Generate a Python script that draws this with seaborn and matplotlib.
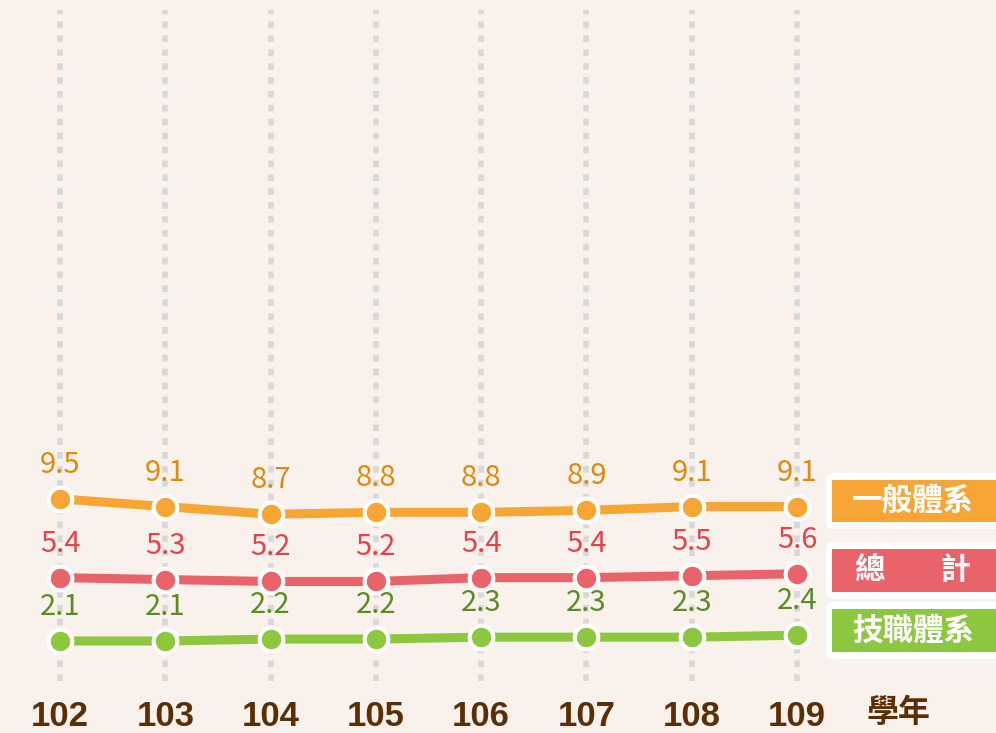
import matplotlib
matplotlib.use("Agg")
import matplotlib.pyplot as plt
import matplotlib.patches as mpatches
import pandas as pd
import seaborn as sns

years = [102, 103, 104, 105, 106, 107, 108, 109]
general = [9.5, 9.1, 8.7, 8.8, 8.8, 8.9, 9.1, 9.1]
total = [5.4, 5.3, 5.2, 5.2, 5.4, 5.4, 5.5, 5.6]
technical = [2.1, 2.1, 2.2, 2.2, 2.3, 2.3, 2.3, 2.4]
series_names = ["一般體系", "總計", "技職體系"]
legend_labels = ["一般體系", "總        計", "技職體系"]

line_colors = ["#F7A535", "#E9636A", "#8DC63F"]
text_colors = ["#DE8A0C", "#E4434D", "#5B8C23"]
brown = "#5C2E04"
bg = "#F8F1EC"

sns.set_theme(style="white")
plt.rcParams["font.family"] = ["Noto Sans CJK TC", "DejaVu Sans"]

df = pd.DataFrame({
    "year": years * 3,
    "value": general + total + technical,
    "series": sum([[n] * len(years) for n in series_names], []),
})

fig = plt.figure(figsize=(9.96, 7.33), dpi=100, facecolor=bg)
ax = fig.add_axes([0, 0.0705, 1, 0.9295])
ax.set_facecolor(bg)

# dotted vertical guides
for y in years:
    ax.axvline(y, ymin=0.0, ymax=0.985, color="#D8D8D8", lw=4,
               linestyle=(0, (1.2, 1.3)), zorder=1)

sns.lineplot(data=df, x="year", y="value", hue="series", palette=line_colors,
             hue_order=series_names, lw=6.5, marker="o", markersize=17,
             markeredgecolor="white", markeredgewidth=3, legend=False,
             ax=ax, zorder=3)

for name, vals, col in zip(series_names, [general, total, technical], text_colors):
    for x, v in zip(years, vals):
        ax.annotate(f"{v}", (x, v), xytext=(0, 24.5),
                    textcoords="offset points", ha="center", va="center",
                    fontsize=21, color=col, zorder=4)

ax.set_xlim(101.43, 110.89)
ax.set_ylim(0, 35.48)
ax.set_xticks([])
ax.set_yticks([])
ax.set_xlabel("")
ax.set_ylabel("")
for s in ax.spines.values():
    s.set_visible(False)

# x labels
for y in years:
    fig.text((y - 101.43) / (110.89 - 101.43), 1 - 716 / 733, str(y),
             ha="center", va="center", fontsize=25, fontweight="bold",
             color=brown, family=["Liberation Sans", "DejaVu Sans"])
fig.text(898 / 996, 1 - 713 / 733, "學年", ha="center", va="center",
         fontsize=23, color=brown, fontweight="bold")

# legend boxes
boxes = [(480, 522), (549, 592), (609, 652)]
for (top, bottom), lab, col in zip(boxes, legend_labels, line_colors):
    x0 = 832 / 996
    h = (bottom - top) / 733
    y0 = 1 - bottom / 733
    fig.patches.append(mpatches.FancyBboxPatch(
        (x0 - 6 / 996, y0 - 7 / 733), 1, h + 14 / 733,
        boxstyle="round,pad=0,rounding_size=0.008", transform=fig.transFigure,
        facecolor="white", edgecolor="none", zorder=5))
    fig.patches.append(mpatches.Rectangle(
        (x0, y0), 1, h, transform=fig.transFigure,
        facecolor=col, edgecolor="none", zorder=6))
    fig.text(913 / 996, y0 + h / 2, lab, ha="center", va="center",
             fontsize=22, color="white", fontweight="bold", zorder=7)

fig.savefig("out.png", dpi=100, facecolor=bg)
